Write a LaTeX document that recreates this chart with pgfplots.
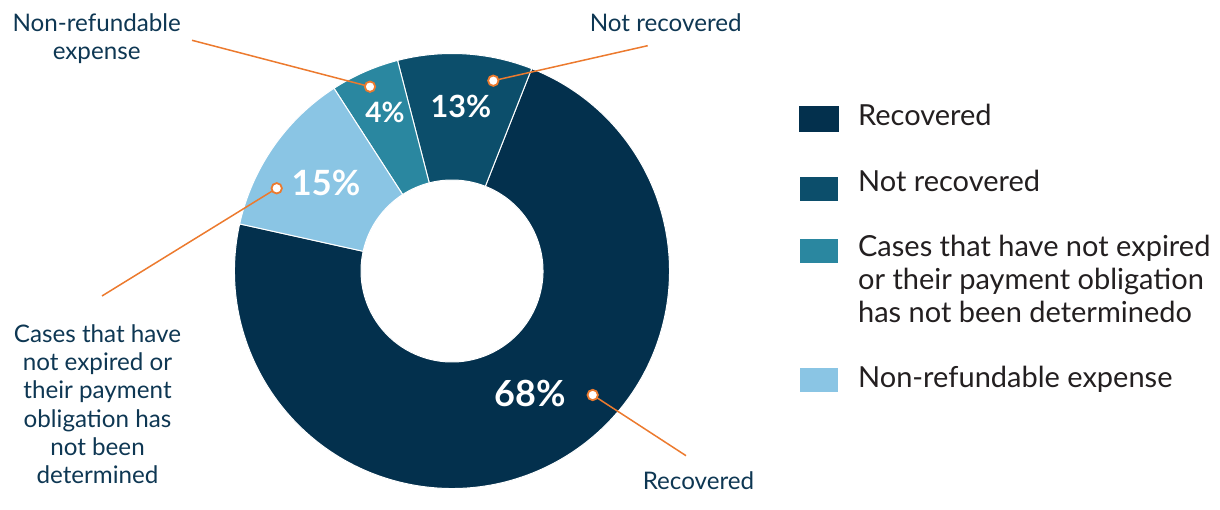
\documentclass[border=0pt]{standalone}
\usepackage{pgfplots}
\pgfplotsset{compat=1.18}
\usepackage{pgfplotstable}
\usepackage{fontspec}
\setmainfont{Lato}

\definecolor{cRec}{HTML}{03304D}
\definecolor{cNot}{HTML}{0C4E6B}
\definecolor{cCase}{HTML}{2A87A0}
\definecolor{cNon}{HTML}{8AC5E4}
\definecolor{lbl}{HTML}{0E3753}
\definecolor{leg}{HTML}{231F20}
\definecolor{lead}{HTML}{EC7A2E}

\newcommand\lblfont{\fontsize{12.1pt}{14pt}\selectfont}
\newcommand\legfont{\fontsize{14.5pt}{16.5pt}\selectfont}

% share of the ring each slice takes in the drawing, counter-clockwise
\pgfplotstableread{
share col
72.5 cRec
10.0 cNot
5.1  cCase
12.4 cNon
}\slices

\begin{document}
\begin{tikzpicture}
\begin{axis}[
  x=0.5pt, y=0.5pt,
  xmin=0, xmax=1220, ymin=0, ymax=493,
  hide axis, clip=false,
  ]
\path (axis cs:0,0) rectangle (axis cs:1220,493);

% ring
\pgfplotsextra{
  \xdef\acc{-192.5}
  \foreach \i in {0,...,3}{
    \pgfplotstablegetelem{\i}{share}\of\slices \let\sh\pgfplotsretval
    \pgfplotstablegetelem{\i}{col}\of\slices \let\col\pgfplotsretval
    \pgfmathsetmacro\aend{\acc+3.6*\sh}
    \filldraw[fill=\col, draw=white, line width=0.5pt]
      (axis cs:452,222) ++(\acc:108.75pt)
      arc[start angle=\acc, end angle=\aend, radius=108.75pt]
      -- ++(\aend+180:63.25pt)
      arc[start angle=\aend, end angle=\acc, radius=45.5pt] -- cycle;
    \xdef\acc{\aend}
  }
}

% values
\node[anchor=base, text=white, font=\bfseries\fontsize{18pt}{18pt}\selectfont] at (axis cs:530,86.3) {68\%};
\node[anchor=base, text=white, font=\bfseries\fontsize{15.3pt}{15pt}\selectfont] at (axis cs:461,375.7) {13\%};
\node[anchor=base, text=white, font=\bfseries\fontsize{14pt}{14pt}\selectfont] at (axis cs:385,370) {4\%};
\node[anchor=base, text=white, font=\bfseries\fontsize{17.4pt}{17pt}\selectfont] at (axis cs:326,297) {15\%};

% leader lines
\draw[lead, line width=0.75pt] (axis cs:192,452.7) -- (axis cs:370,406.3);
\draw[lead, line width=0.75pt] (axis cs:647.7,447.3) -- (axis cs:493.3,412.3);
\draw[lead, line width=0.75pt] (axis cs:686,37.3) -- (axis cs:592.7,98);
\draw[lead, line width=0.75pt] (axis cs:102,197) -- (axis cs:276.7,304.7);
\filldraw[fill=white, draw=lead, line width=0.9pt] (axis cs:370,406.3) circle[radius=2.6pt];
\filldraw[fill=white, draw=lead, line width=0.9pt] (axis cs:493.3,412.3) circle[radius=2.6pt];
\filldraw[fill=white, draw=lead, line width=0.9pt] (axis cs:592.7,98) circle[radius=2.6pt];
\filldraw[fill=white, draw=lead, line width=0.9pt] (axis cs:276.7,304.7) circle[radius=2.6pt];

% callout labels
\begin{scope}[every node/.style={anchor=base, text=lbl, font=\lblfont, inner sep=0pt}]
\node at (axis cs:96.7,461.3) {Non-refundable};
\node at (axis cs:96.7,433.7) {expense};
\node at (axis cs:665.7,461.3) {Not recovered};
\node at (axis cs:698.5,3) {Recovered};
\node at (axis cs:97.5,150.7) {Cases that have};
\node at (axis cs:97.5,122.3) {not expired or};
\node at (axis cs:97.5,94) {their payment};
\node at (axis cs:97.5,65.7) {obligation has};
\node at (axis cs:97.5,37.3) {not been};
\node at (axis cs:97.5,9.7) {determined};
\end{scope}

% legend
\fill[cRec] (axis cs:799,361.3) rectangle (axis cs:839,387);
\fill[cNot] (axis cs:800,292) rectangle (axis cs:838,316);
\fill[cCase] (axis cs:800,230) rectangle (axis cs:838,254);
\fill[cNon] (axis cs:800,101) rectangle (axis cs:838,125);
\begin{scope}[every node/.style={anchor=base west, text=leg, font=\legfont, inner sep=0pt}]
\node at (axis cs:857.7,367) {Recovered};
\node at (axis cs:857.7,301.3) {Not recovered};
\node at (axis cs:857.7,236.3) {Cases that have not expired};
\node at (axis cs:857.7,203.7) {or their payment obligation};
\node at (axis cs:857.7,170.7) {has not been determinedo};
\node at (axis cs:857.7,105.7) {Non-refundable expense};
\end{scope}
\end{axis}
\end{tikzpicture}
\end{document}
